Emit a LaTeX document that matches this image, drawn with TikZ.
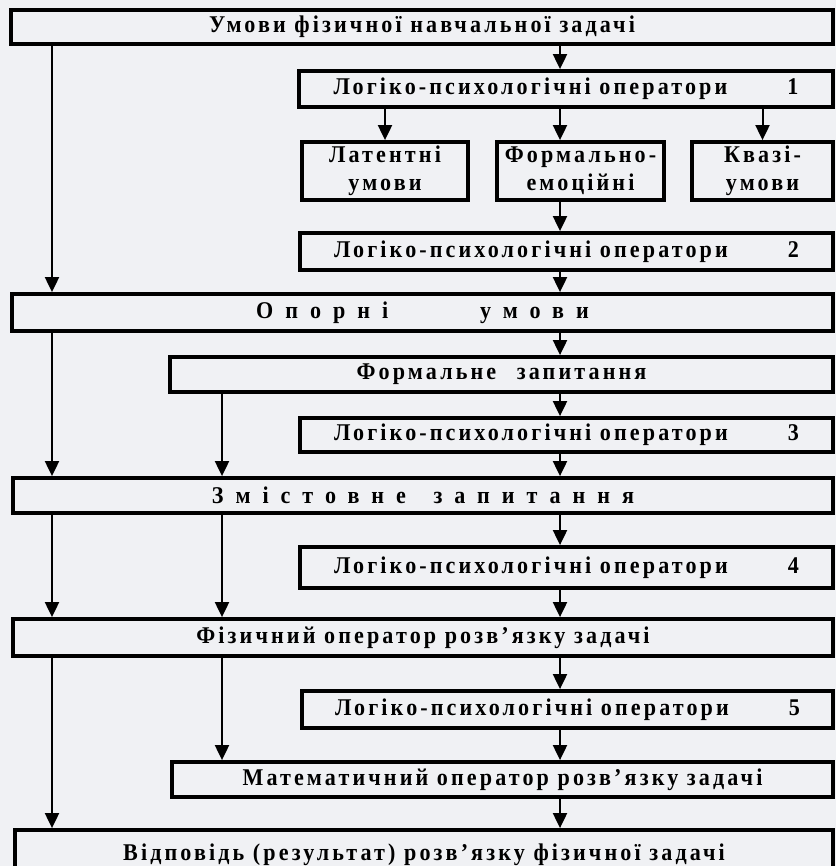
\documentclass[tikz,border=0pt]{standalone}
\usepackage{fontspec}
\setmainfont[FakeStretch=0.92,LetterSpace=13]{Liberation Serif}
\newfontfamily\spacedfont[FakeStretch=0.92,LetterSpace=50]{Liberation Serif}
\usetikzlibrary{arrows.meta}
\definecolor{paper}{RGB}{240,241,244}

\begin{document}
\begin{tikzpicture}[x=1pt,y=-1pt,
  every node/.style={draw,line width=3.8pt,inner sep=0pt,align=center,
    font=\bfseries\fontsize{24}{28}\selectfont},
  arr/.style={line width=2pt,-{Triangle[length=15pt,width=14pt]}}]
  \useasboundingbox (0,0) rectangle (836,866);
  \fill[paper] (0,0) rectangle (836,866);
  % boxes
  \node[minimum width=822pt,minimum height=34pt] (umovy) at (422,27) {Умови фізичної навчальної задачі};
  \node[minimum width=534pt,minimum height=36pt] (lpo1) at (566,89) {Логіко-психологічні оператори\hspace{60pt}1};
  \node[minimum width=166pt,minimum height=58pt] (latent) at (385,171) {Латентні\\умови};
  \node[minimum width=167pt,minimum height=58pt] (formem) at (580.5,171) {Формально-\\емоційні};
  \node[minimum width=141pt,minimum height=58pt] (kvazi) at (762.5,171) {Квазі-\\умови};
  \node[minimum width=533pt,minimum height=37pt] (lpo2) at (566.5,251.5) {Логіко-психологічні оператори\hspace{60pt}2};
  \node[minimum width=821pt,minimum height=37pt] (opory) at (422.5,312.5) {\spacedfont Опорні\hspace{92pt}умови};
  \node[minimum width=663pt,minimum height=35pt] (formzap) at (501.5,374.5) {Формальне\hspace{12pt} запитання};
  \node[minimum width=533pt,minimum height=34pt] (lpo3) at (566.5,435) {Логіко-психологічні оператори\hspace{60pt}3};
  \node[minimum width=820pt,minimum height=35pt] (zmist) at (423,495.5) {\spacedfont Змістовне\hspace{10pt} запитання};
  \node[minimum width=533pt,minimum height=41pt] (lpo4) at (566.5,567.5) {Логіко-психологічні оператори\hspace{60pt}4};
  \node[minimum width=820pt,minimum height=37pt] (fizop) at (423,637.5) {Фізичний оператор розв’язку задачі};
  \node[minimum width=531pt,minimum height=37pt] (lpo5) at (567.5,709.5) {Логіко-психологічні оператори\hspace{60pt}5};
  \node[minimum width=661pt,minimum height=35pt] (matop) at (502.5,779.5) {Математичний оператор розв’язку задачі};
  \node[minimum width=818pt,minimum height=50pt] (vidp) at (424,855) {Відповідь (результат) розв’язку фізичної задачі};
  % columns of the arrows
  \coordinate (mid) at (560,0);
  \coordinate (left) at (52,0);
  \coordinate (inner) at (222,0);
  \draw[arr] (umovy.south -| mid)--(lpo1.north -| mid);
  \draw[arr] (lpo1.south -| latent)--(latent.north);
  \draw[arr] (lpo1.south -| mid)--(formem.north -| mid);
  \draw[arr] (lpo1.south -| kvazi)--(kvazi.north);
  \draw[arr] (formem.south -| mid)--(lpo2.north -| mid);
  \draw[arr] (lpo2.south -| mid)--(opory.north -| mid);
  \draw[arr] (opory.south -| mid)--(formzap.north -| mid);
  \draw[arr] (formzap.south -| mid)--(lpo3.north -| mid);
  \draw[arr] (lpo3.south -| mid)--(zmist.north -| mid);
  \draw[arr] (zmist.south -| mid)--(lpo4.north -| mid);
  \draw[arr] (lpo4.south -| mid)--(fizop.north -| mid);
  \draw[arr] (fizop.south -| mid)--(lpo5.north -| mid);
  \draw[arr] (lpo5.south -| mid)--(matop.north -| mid);
  \draw[arr] (matop.south -| mid)--(vidp.north -| mid);
  % side lines
  \draw[arr] (umovy.south -| left)--(opory.north -| left);
  \draw[arr] (opory.south -| left)--(zmist.north -| left);
  \draw[arr] (zmist.south -| left)--(fizop.north -| left);
  \draw[arr] (fizop.south -| left)--(vidp.north -| left);
  \draw[arr] (formzap.south -| inner)--(zmist.north -| inner);
  \draw[arr] (zmist.south -| inner)--(fizop.north -| inner);
  \draw[arr] (fizop.south -| inner)--(matop.north -| inner);
\end{tikzpicture}
\end{document}
